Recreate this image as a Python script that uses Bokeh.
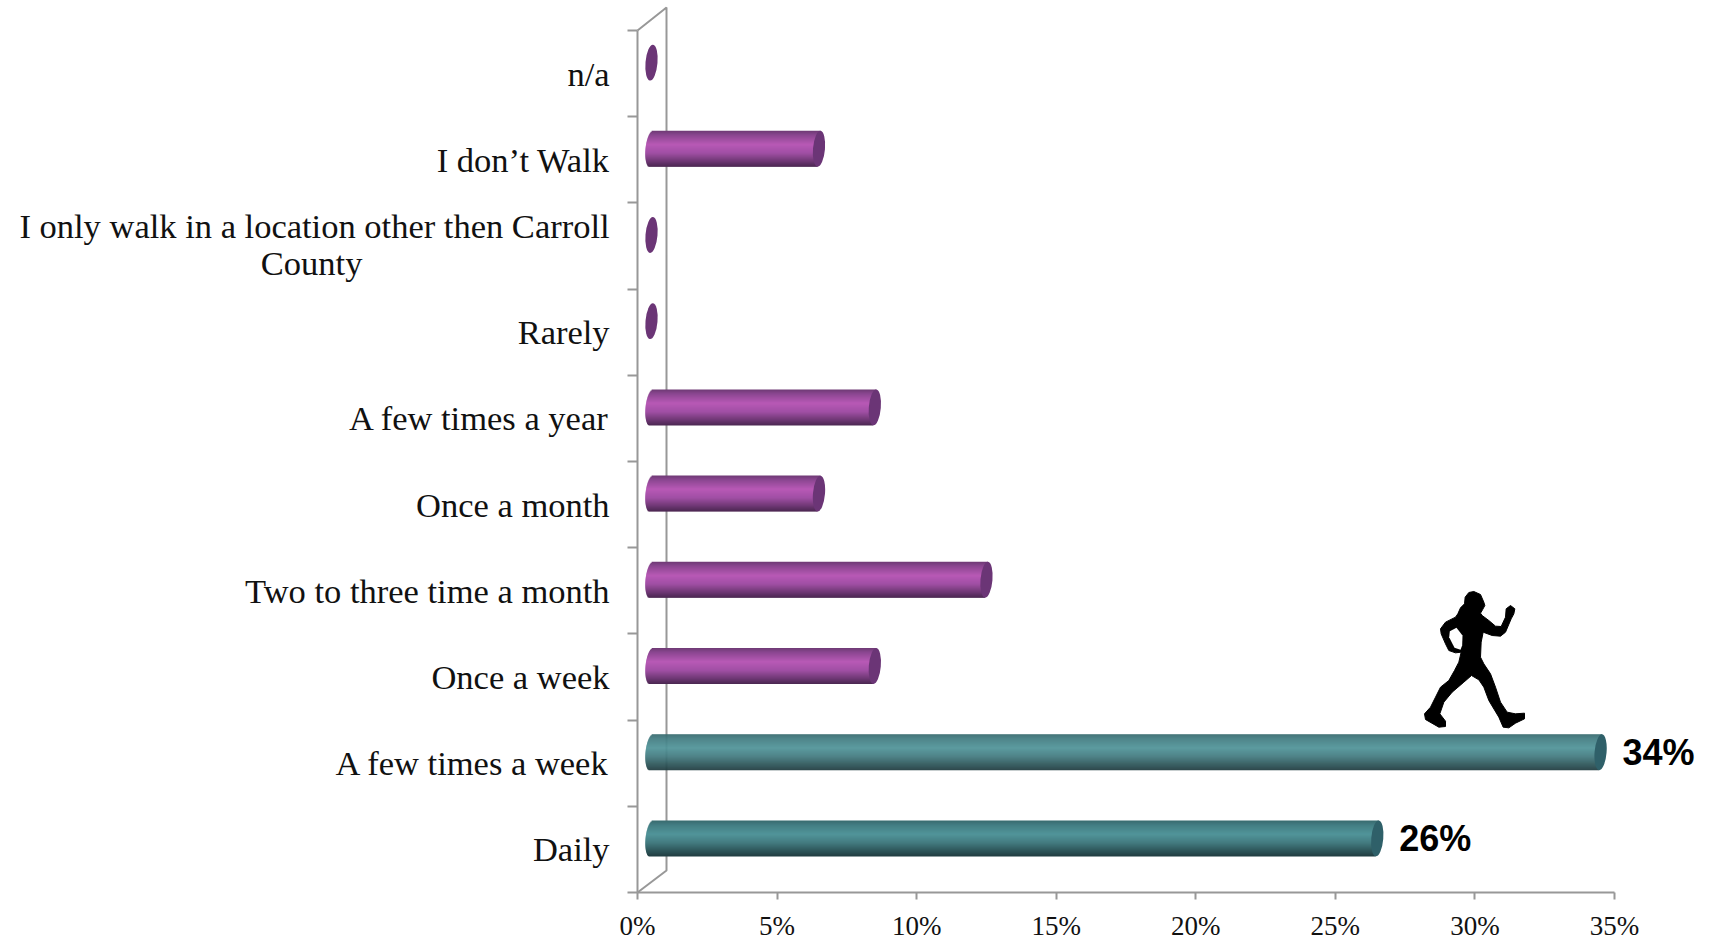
from bokeh.plotting import figure
from bokeh.models import Range1d, LinearAxis, FixedTicker, ColumnDataSource
from bokeh.core.properties import value
from bokeh.embed import file_html
from bokeh.resources import INLINE
import math

categories = ["Daily", "A few times a week", "Once a week", "Two to three time a month",
              "Once a month", "A few times a year", "Rarely",
              "I only walk in a location other then Carroll", "I don\u2019t Walk", "n/a"]
values = [26, 34, 8, 12, 6, 8, 0, 0, 6, 0]
highlighted = ["Daily", "A few times a week"]
x_ticks = [0, 5, 10, 15, 20, 25, 30, 35]
x_tick_labels = {t: f"{t}%" for t in x_ticks}

PAGE_X0, PAGE_Y0 = 637.0, 892.0          # page position of the 0% / bottom corner
PX_PER_PCT = 27.914
PX_PER_CAT = 86.2
W, H = 1713, 940
PAGE_L, PAGE_T = 0, 0


def dx(px):
    return px / PX_PER_PCT


def dy(px):
    return px / PX_PER_CAT


def page_x(px):
    return (px - PAGE_X0) / PX_PER_PCT


def page_y(py):
    return (PAGE_Y0 - py) / PX_PER_CAT


p = figure(width=W, height=H, output_backend="svg", toolbar_location=None, min_border=0,
           x_range=Range1d(page_x(PAGE_L), page_x(PAGE_L + W)),
           y_range=Range1d(page_y(PAGE_T + H), page_y(PAGE_T)),
           x_axis_type=None, y_axis_type=None, outline_line_color=None,
           background_fill_color="white", border_fill_color="white")
p.grid.visible = False

AXIS = "#989898"
xa = LinearAxis(bounds=(0, 35), fixed_location=0, ticker=FixedTicker(ticks=x_ticks),
                major_label_overrides=x_tick_labels,
                major_tick_in=0, major_tick_out=7, minor_tick_out=0, minor_tick_in=0,
                axis_line_color=AXIS, axis_line_width=2, major_tick_line_color=AXIS, major_tick_line_width=2,
                major_label_text_font="Liberation Serif", major_label_text_font_size="27px",
                major_label_text_color="#111111", major_label_standoff=11)
p.add_layout(xa, "below")
ya = LinearAxis(bounds=(0, 10), fixed_location=0, ticker=FixedTicker(ticks=list(range(11))),
                major_label_overrides={i: "" for i in range(11)},
                major_tick_in=0, major_tick_out=10, minor_tick_out=0, minor_tick_in=0,
                axis_line_color=AXIS, axis_line_width=2, major_tick_line_color=AXIS, major_tick_line_width=2)
p.add_layout(ya, "left")

# back wall of the 3-D box
wall_x = dx(29)
wall_b = dy(22)
wall_t = 10 + dy(23)
p.line([0, wall_x, wall_x, 0], [0, wall_b, wall_t, 10], line_color=AXIS, line_width=2)

# cylinders
PURPLE = [(0, "#6e3a74"), (0.12, "#8a4690"), (0.38, "#b859b6"), (0.62, "#a04fa4"), (0.85, "#6d3773"), (1, "#4a2750")]
TEAL = [(0, "#386a6e"), (0.12, "#437d82"), (0.38, "#519499"), (0.62, "#437b80"), (0.85, "#2d5458"), (1, "#203c40")]
CAP_P, CAP_T = "#6b3576", "#2f6069"


def mix(stops, t):
    for (a, ca), (b, cb) in zip(stops, stops[1:]):
        if t <= b:
            f = (t - a) / (b - a)
            ch = [round(int(ca[i:i + 2], 16) * (1 - f) + int(cb[i:i + 2], 16) * f) for i in (1, 3, 5)]
            return "#%02x%02x%02x" % tuple(ch)
    return stops[-1][1]


SHIFT_X = dx(14)
SHIFT_Y = dy(11)
BAR_PX = 36
RX = 6
TILT = 1.6
left, right, top, bottom, color = [], [], [], [], []
cap_x, cap_y, cap_c = [], [], []
for i, (cat, val) in enumerate(zip(categories, values)):
    yc = i + 0.5 + SHIFT_Y
    stops = TEAL if cat in highlighted else PURPLE
    cap_x.append(val + SHIFT_X)
    cap_y.append(yc)
    cap_c.append(CAP_T if cat in highlighted else CAP_P)
    if val == 0:
        continue
    for k in range(BAR_PX):
        u = (k + 0.5) / BAR_PX          # 0 at the top of the cylinder
        s = 2 * u - 1
        skew = -s * TILT
        left.append(SHIFT_X + dx(skew - RX * math.sqrt(max(0, 1 - s * s))))
        right.append(val + SHIFT_X + dx(skew))
        top.append(yc + dy(BAR_PX / 2 - k))
        bottom.append(yc + dy(BAR_PX / 2 - k - 1.6 if k < BAR_PX - 1 else BAR_PX / 2 - k - 1))
        color.append(mix(stops, u))

p.quad(left="l", right="r", top="t", bottom="b", fill_color="c", line_color=None,
       source=ColumnDataSource(dict(l=left, r=right, t=top, b=bottom, c=color)))
p.ellipse(x="x", y="y", width=2 * RX, height=BAR_PX, width_units="screen", height_units="screen",
          angle=-0.085, fill_color="c", line_color=None,
          source=ColumnDataSource(dict(x=cap_x, y=cap_y, c=cap_c)))

# category labels
SERIF = value("Liberation Serif")
LABEL_SIZE = "34.5px"
for i, cat in enumerate(categories):
    if cat.startswith("I only"):
        p.text([-1.0], [i + 0.5 + dy(20)], text=[cat], text_font=SERIF, text_font_size=LABEL_SIZE,
               text_align="right", text_baseline="middle", text_color="#111111")
        p.text([-1.0 - dx(298)], [i + 0.5 - dy(17)], text=["County"], text_font=SERIF, text_font_size=LABEL_SIZE,
               text_align="center", text_baseline="middle", text_color="#111111")
    else:
        p.text([-1.0], [i + 0.5], text=[cat], text_font=SERIF, text_font_size=LABEL_SIZE,
               text_align="right", text_baseline="middle", text_color="#111111")

# value labels
lab_x = [v + SHIFT_X for c, v in zip(categories, values) if c in highlighted]
lab_y = [i + 0.5 + SHIFT_Y for i, c in enumerate(categories) if c in highlighted]
lab_t = [f"{v}%" for c, v in zip(categories, values) if c in highlighted]
p.text(lab_x, lab_y, text=lab_t, x_offset=22, text_font=value("Liberation Sans"), text_font_style="bold",
       text_font_size="36px", text_align="left", text_baseline="middle", text_color="black")

# walker silhouette (traced outline, in page pixels of the reference crop)
walker = [(280,63),(300,72),(310,95),(313,105),(306,118),(300,128),(305,135),(325,150),(345,167),(362,168),
          (375,140),(377,115),(390,105),(403,115),(400,130),(392,145),(375,185),(360,197),(335,195),(308,185),
          (302,215),(300,260),(310,280),(330,310),(345,350),(360,395),(380,425),(405,430),(432,428),(432,445),
          (405,458),(385,472),(368,470),(355,440),(325,390),(310,350),(295,328),(273,315),(250,335),(215,365),
          (190,395),(178,430),(195,452),(195,468),(175,470),(135,447),(132,430),(150,410),(165,380),(180,350),
          (205,330),(222,300),(235,275),(242,245),(225,247),(205,240),(195,220),(182,190),(180,175),(195,155),
          (225,140),(232,130),(240,112),(252,100),(254,80),(265,66)]
hole = [(228,172),(246,195),(245,225),(240,238),(222,232),(206,200),(208,182)]
to_page = lambda pts: ([page_x(1380 + a / 3) for a, _ in pts], [page_y(570 + b / 3) for _, b in pts])
xs, ys = to_page(walker)
p.patch(xs, ys, fill_color="black", line_color="black", line_width=1)
xs, ys = to_page(hole)
p.patch(xs, ys, fill_color="white", line_color=None)

open("out.html", "w").write(file_html(p, INLINE))
